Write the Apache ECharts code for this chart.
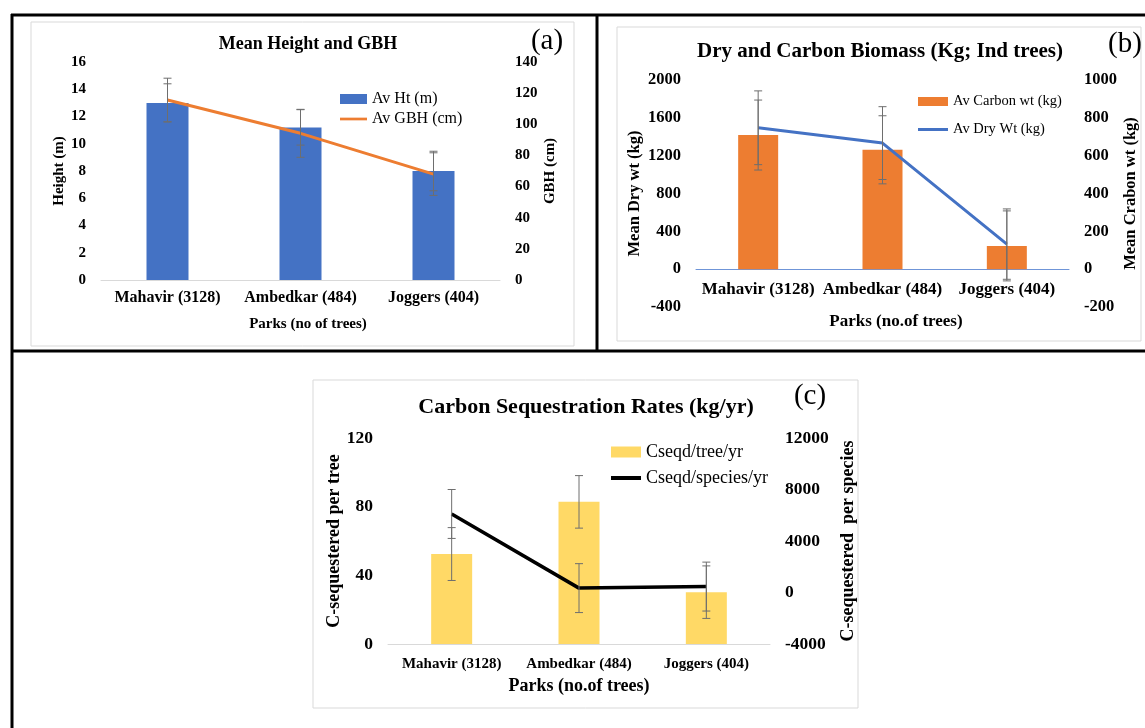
<!DOCTYPE html>
<html>
<head>
<meta charset="utf-8">
<script src="https://cdn.jsdelivr.net/npm/echarts@6/dist/echarts.min.js"></script>
<style>
    html, body { margin: 0; padding: 0; background: #fff; }
    #chart { width: 1145px; height: 728px; }
</style>
</head>
<body>
<div id="chart"></div>
<script>
const parks = ['Mahavir (3128)', 'Ambedkar (484)', 'Joggers (404)'];

// (a) mean height and GBH
const avHt = [13.0, 11.2, 8.0];
const avHtErr = [1.4, 1.3, 1.45];
const avGbh = [115.6, 94.2, 68];
const avGbhErr = [14, 15.4, 13.7];
const htRange = [0, 16, 2];
const gbhRange = [0, 140, 20];

// (b) dry and carbon biomass
const avCarbon = [709, 631, 123];
const avCarbonErr = [185, 180, 185];
const avDry = [1495, 1333, 265];
const avDryErr = [390, 385, 372];
const dryRange = [-400, 2000, 400];
const carbonRange = [-200, 1000, 200];

// (c) carbon sequestration rates
const cTree = [52.4, 82.8, 30.2];
const cTreeErr = [15.4, 15.3, 15.3];
const cSpecies = [6100, 340, 460];
const cSpeciesErr = [1900, 1900, 1900];
const treeRange = [0, 120, 40];
const speciesRange = [-4000, 12000, 4000];

const serif = 'Liberation Serif';
const lineIcon = 'path://M0,0L30,0L30,3L0,3Z';

let chart = echarts.init(document.getElementById('chart'));

function valueAxis(grid, range, pos, fontSize, name, nameSize, gap) {
    return {
        type: 'value', gridIndex: grid, position: pos,
        min: range[0], max: range[1], interval: range[2],
        axisLine: {show: false}, axisTick: {show: false}, splitLine: {show: false},
        axisLabel: {
            margin: 15, color: '#000', fontFamily: serif, fontWeight: 'bold', fontSize: fontSize,
            formatter: function (v) { return String(v); }
        },
        name: name, nameLocation: 'middle', nameRotate: 90, nameGap: gap,
        nameTextStyle: {color: '#000', fontFamily: serif, fontWeight: 'bold', fontSize: nameSize}
    };
}

function catAxis(grid, fontSize, margin, lineColor, name, nameSize, gap, shift, offset) {
    return {
        type: 'category', gridIndex: grid, data: parks, offset: offset,
        axisLine: {show: true, onZero: false, lineStyle: {color: lineColor, width: 1}},
        axisTick: {show: false},
        axisLabel: {interval: 0, margin: margin, color: '#000', fontFamily: serif, fontWeight: 'bold', fontSize: fontSize},
        name: name, nameLocation: 'middle', nameGap: gap,
        nameTextStyle: {color: '#000', fontFamily: serif, fontWeight: 'bold', fontSize: nameSize, padding: [0, 0, 0, shift]}
    };
}

function errSeries(xi, yi, vals, errs) {
    return {
        type: 'custom', xAxisIndex: xi, yAxisIndex: yi, z: 5, silent: true,
        data: vals.map((v, i) => [i, v - errs[i], v + errs[i]]),
        renderItem: function (params, api) {
            let lo = api.coord([api.value(0), api.value(1)]);
            let hi = api.coord([api.value(0), api.value(2)]);
            let w = 4;
            let st = {stroke: '#6e6e6e', lineWidth: 1};
            return {
                type: 'group',
                children: [
                    {type: 'line', shape: {x1: hi[0], y1: hi[1], x2: lo[0], y2: lo[1]}, style: st},
                    {type: 'line', shape: {x1: hi[0] - w, y1: hi[1], x2: hi[0] + w, y2: hi[1]}, style: st},
                    {type: 'line', shape: {x1: lo[0] - w, y1: lo[1], x2: lo[0] + w, y2: lo[1]}, style: st}
                ]
            };
        }
    };
}

function titleOf(text, x, y, size) {
    return {
        text: text, left: x, top: y, textAlign: 'center', padding: 0,
        textStyle: {color: '#000', fontFamily: serif, fontWeight: 'bold', fontSize: size}
    };
}

function panelTag(text, x, y) {
    return {
        type: 'text', z: 10,
        style: {text: text, x: x, y: y, fill: '#000', font: '29px "Liberation Serif"', textAlign: 'center', textVerticalAlign: 'middle'}
    };
}

function blackLine(x1, y1, x2, y2) {
    return {type: 'line', z: 10, shape: {x1: x1, y1: y1, x2: x2, y2: y2}, style: {stroke: '#000', lineWidth: 3}};
}

function grayBox(x, y, w, h) {
    return {type: 'rect', z: -1, shape: {x: x, y: y, width: w, height: h}, style: {fill: '#fff', stroke: '#d9d9d9', lineWidth: 1}};
}

const option = {
    backgroundColor: '#fff',
    animation: false,
    title: [
        titleOf('Mean Height and GBH', 308, 35, 18),
        titleOf('Dry and Carbon Biomass (Kg; Ind trees)', 880, 41, 21),
        titleOf('Carbon Sequestration Rates (kg/yr)', 586, 396, 22)
    ],
    legend: [
        {
            left: 340, top: 91, orient: 'vertical', padding: 0, itemGap: 4,
            itemWidth: 27, itemHeight: 10,
            textStyle: {color: '#000', fontFamily: serif, fontSize: 16},
            data: [{name: 'Av Ht (m)', icon: 'rect'}, {name: 'Av GBH (cm)', icon: lineIcon}]
        },
        {
            left: 918, top: 94, orient: 'vertical', padding: 0, itemGap: 13,
            itemWidth: 30, itemHeight: 9,
            textStyle: {color: '#000', fontFamily: serif, fontSize: 14.5},
            data: [{name: 'Av Carbon wt (kg)', icon: 'rect'}, {name: 'Av Dry Wt (kg)', icon: lineIcon}]
        },
        {
            left: 611, top: 443, orient: 'vertical', padding: 0, itemGap: 8,
            itemWidth: 30, itemHeight: 11,
            textStyle: {color: '#000', fontFamily: serif, fontSize: 18},
            data: [{name: 'Cseqd/tree/yr', icon: 'rect'}, {name: 'Cseqd/species/yr', icon: 'path://M0,0L30,0L30,4L0,4Z'}]
        }
    ],
    grid: [
        {left: 101, top: 62, width: 399, height: 218},
        {left: 696, top: 80, width: 373, height: 227},
        {left: 388, top: 438, width: 382, height: 206}
    ],
    xAxis: [
        catAxis(0, 16, 10, '#d9d9d9', 'Parks (no of trees)', 15, 37, 15, 0),
        catAxis(1, 17, 12, '#6f95d8', 'Parks (no.of trees)', 17, 44, 27, -38),
        catAxis(2, 15, 13, '#d9d9d9', 'Parks (no.of trees)', 18, 33, 0, 0)
    ],
    yAxis: [
        valueAxis(0, htRange, 'left', 15, 'Height (m)', 15, 33),
        valueAxis(0, gbhRange, 'right', 15, 'GBH (cm)', 15, 43),
        valueAxis(1, dryRange, 'left', 16.5, 'Mean Dry wt (kg)', 16.5, 53),
        valueAxis(1, carbonRange, 'right', 16.5, 'Mean Crabon wt (kg)', 16.5, 53),
        valueAxis(2, treeRange, 'left', 17.5, 'C-sequestered per tree', 18, 43),
        valueAxis(2, speciesRange, 'right', 17.5, 'C-sequestered  per species', 18, 69)
    ],
    series: [
        {name: 'Av Ht (m)', type: 'bar', xAxisIndex: 0, yAxisIndex: 0, barWidth: 42,
            itemStyle: {color: '#4472c4'}, data: avHt},
        {name: 'Av GBH (cm)', type: 'line', xAxisIndex: 0, yAxisIndex: 1, symbol: 'none', z: 4,
            itemStyle: {color: '#ed7d31'}, lineStyle: {color: '#ed7d31', width: 3}, data: avGbh},
        errSeries(0, 0, avHt, avHtErr),
        errSeries(0, 1, avGbh, avGbhErr),

        {name: 'Av Carbon wt (kg)', type: 'bar', xAxisIndex: 1, yAxisIndex: 3, barWidth: 40,
            itemStyle: {color: '#ed7d31'}, data: avCarbon},
        {name: 'Av Dry Wt (kg)', type: 'line', xAxisIndex: 1, yAxisIndex: 2, symbol: 'none', z: 4,
            itemStyle: {color: '#4472c4'}, lineStyle: {color: '#4472c4', width: 3}, data: avDry},
        errSeries(1, 3, avCarbon, avCarbonErr),
        errSeries(1, 2, avDry, avDryErr),

        {name: 'Cseqd/tree/yr', type: 'bar', xAxisIndex: 2, yAxisIndex: 4, barWidth: 41,
            itemStyle: {color: '#ffd966'}, data: cTree},
        {name: 'Cseqd/species/yr', type: 'line', xAxisIndex: 2, yAxisIndex: 5, symbol: 'none', z: 4,
            itemStyle: {color: '#000'}, lineStyle: {color: '#000', width: 3.5}, data: cSpecies},
        errSeries(2, 4, cTree, cTreeErr),
        errSeries(2, 5, cSpecies, cSpeciesErr)
    ],
    graphic: [
        grayBox(31, 22, 543, 324),
        grayBox(617, 27, 524, 314),
        grayBox(313, 380, 545, 328),
        blackLine(11, 15, 1145, 15),
        blackLine(12, 14, 12, 728),
        blackLine(597, 14, 597, 352),
        blackLine(11, 351, 1145, 351),
        panelTag('(a)', 547, 41),
        panelTag('(b)', 1125, 44),
        panelTag('(c)', 810, 396)
    ]
};

chart.setOption(option);

window.addEventListener('resize', function () {
    chart.resize();
});
</script>
</body>
</html>
